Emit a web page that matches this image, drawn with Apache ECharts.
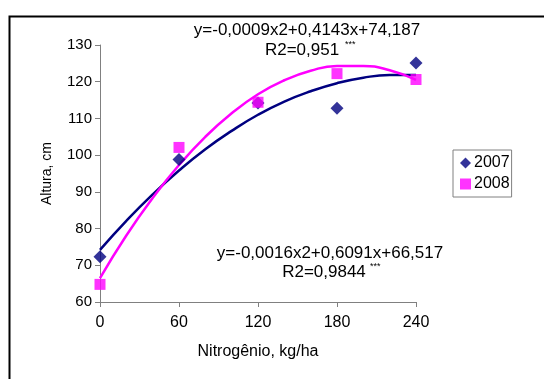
<!DOCTYPE html>
<html><head><meta charset="utf-8">
<script src="https://cdn.jsdelivr.net/npm/echarts@6/dist/echarts.min.js"></script>
<style>html,body{margin:0;padding:0;background:#fff}#c{width:544px;height:379px}</style>
</head><body><div id="c"></div>
<script>
// Observed data
const nitrogen = [0, 60, 120, 180, 240];
const altura2007 = [72.3, 98.8, 114.2, 112.8, 125.1];
const altura2008 = [64.8, 102.1, 114.4, 122.2, 120.6];
// Trend lines
const trendX = [0, 20, 40, 60, 80, 100, 120, 140, 160, 180, 200, 220, 240];
const trend2007 = [74.2, 82.1, 89.3, 95.8, 101.6, 106.6, 111.0, 114.6, 117.4, 119.6, 121.1, 121.8, 121.8];
const trend2008 = [66.5, 78.1, 88.3, 97.3, 105.0, 111.4, 116.6, 120.4, 123.0, 124.3, 124.3, 123.1, 120.5];
const xTicks = [0, 60, 120, 180, 240];
const yTicks = [60, 70, 80, 90, 100, 110, 120, 130];
const eq2007 = 'y=-0,0009x2+0,4143x+74,187';
const r2007 = 'R2=0,951';
const eq2008 = 'y=-0,0016x2+0,6091x+66,517';
const r2008 = 'R2=0,9844';

const FONT = '"Liberation Sans", Arial, sans-serif';
const chart = echarts.init(document.getElementById('c'));
const pairs = (xs, ys) => xs.map((x, i) => [x, ys[i]]);

chart.setOption({
  animation: false,
  backgroundColor: '#fff',
  grid: { left: 100, right: 128, top: 45, bottom: 77 },
  xAxis: {
    type: 'value', min: xTicks[0], max: xTicks[xTicks.length - 1], interval: 60,
    name: 'Nitrogênio, kg/ha', nameLocation: 'middle', nameGap: 42,
    nameTextStyle: { fontFamily: FONT, fontSize: 16, color: '#000' },
    axisLine: { show: true, lineStyle: { color: '#808080', width: 1 } },
    axisTick: { show: true, length: 5, lineStyle: { color: '#808080' } },
    axisLabel: { fontFamily: FONT, fontSize: 16, color: '#000', margin: 13 },
    splitLine: { show: false }
  },
  yAxis: {
    type: 'value', min: yTicks[0], max: yTicks[yTicks.length - 1], interval: 10,
    name: 'Altura, cm', nameLocation: 'middle', nameGap: 46, nameRotate: 90,
    nameTextStyle: { fontFamily: FONT, fontSize: 14, color: '#000' },
    axisLine: { show: true, lineStyle: { color: '#808080', width: 1 } },
    axisTick: { show: true, length: 5, lineStyle: { color: '#808080' } },
    axisLabel: { fontFamily: FONT, fontSize: 15, color: '#000', margin: 8 },
    splitLine: { show: false }
  },
  legend: {
    orient: 'vertical', left: 453, top: 150, itemGap: 5,
    itemWidth: 11, itemHeight: 11,
    borderColor: '#808080', borderWidth: 1, padding: [5, 2, 5, 7],
    textStyle: { fontFamily: FONT, fontSize: 16, color: '#000', padding: [0, 0, 0, -2] },
    data: [{ name: '2007', icon: 'diamond' }, { name: '2008', icon: 'rect' }]
  },
  series: [
    { name: 't2007', type: 'line', data: pairs(trendX, trend2007), smooth: true, symbol: 'none',
      lineStyle: { color: '#000080', width: 2.5 }, z: 2 },
    { name: 't2008', type: 'line', data: pairs(trendX, trend2008), smooth: true, symbol: 'none',
      lineStyle: { color: '#FF00FF', width: 2.5 }, z: 2 },
    { name: '2007', type: 'scatter', data: pairs(nitrogen, altura2007), symbol: 'diamond', symbolSize: 13,
      itemStyle: { color: '#000080' }, z: 3 },
    { name: '2008', type: 'scatter', data: pairs(nitrogen, altura2008), symbol: 'rect', symbolSize: 11,
      itemStyle: { color: '#FF00FF' }, z: 4 }
  ],
  graphic: [
    { type: 'rect', left: 7, top: 14, shape: { width: 600, height: 420 },
      style: { fill: 'none', stroke: '#000', lineWidth: 2 }, silent: true, z: 0 },
    { type: 'text', x: 307, y: 30, style: { text: eq2007, font: '17px ' + FONT, fill: '#000', align: 'center', verticalAlign: 'middle' } },
    { type: 'text', x: 302, y: 50, style: { text: r2007, font: '17px ' + FONT, fill: '#000', align: 'center', verticalAlign: 'middle' } },
    { type: 'text', x: 345, y: 45, style: { text: '***', font: '9px ' + FONT, fill: '#000', align: 'left', verticalAlign: 'middle' } },
    { type: 'text', x: 330, y: 253, style: { text: eq2008, font: '17px ' + FONT, fill: '#000', align: 'center', verticalAlign: 'middle' } },
    { type: 'text', x: 324, y: 272, style: { text: r2008, font: '17px ' + FONT, fill: '#000', align: 'center', verticalAlign: 'middle' } },
    { type: 'text', x: 370, y: 267, style: { text: '***', font: '9px ' + FONT, fill: '#000', align: 'left', verticalAlign: 'middle' } }
  ]
});
</script></body></html>
